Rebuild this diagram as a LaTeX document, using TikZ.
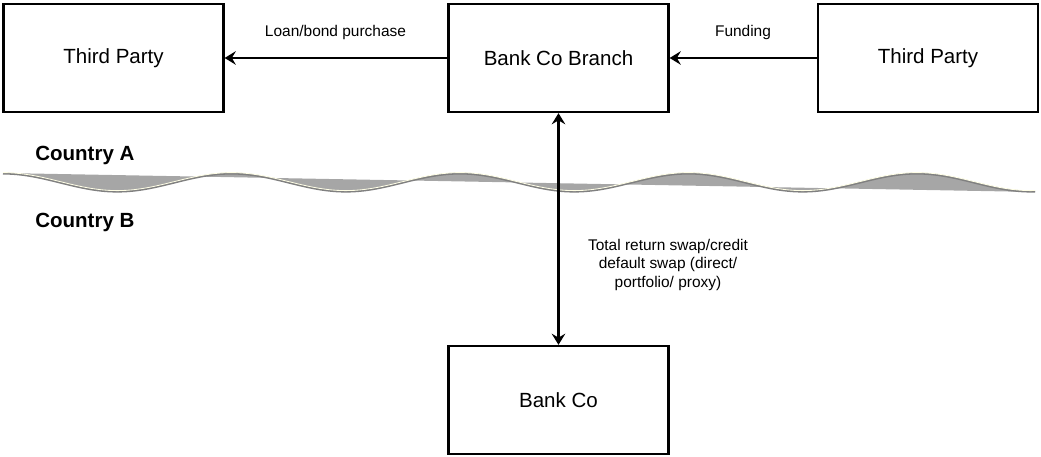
\documentclass[tikz,border=0pt]{standalone}
\usepackage{fontspec}
\setmainfont{Liberation Sans}
\usetikzlibrary{arrows.meta}
\begin{document}
\begin{tikzpicture}[x=0.025cm, y=-0.025cm,
    party/.style={draw, line width=1.6pt, minimum width=5.5cm, minimum height=2.7cm,
      font=\fontsize{14.6}{17}\selectfont},
    tip/.tip={Stealth[length=0.28cm, width=0.34cm, inset=0.1cm]},
    flow/.style={line width=1.8pt, -tip},
    lbl/.style={font=\fontsize{11}{13.1}\selectfont, inner sep=0pt},
    country/.style={font=\fontsize{14.6}{17}\selectfont\bfseries, anchor=west, inner sep=0pt}]
    \useasboundingbox (0,0) rectangle (1041,457);
    % border between the two countries
    \fill[black!35] plot[domain=3:1035, samples=200, smooth] (\x, {182-9*cos(1.5755*(\x-3))})
      -- (1035,192) -- (3,173) -- cycle;
    \draw[black!50, line width=1.4pt] plot[domain=3:1035, samples=200, smooth] (\x, {182.6-9*cos(1.5755*(\x-3))});
    \draw[white!90!yellow, line width=0.6pt] plot[domain=3:1035, samples=200, smooth] (\x, {181.6-9*cos(1.5755*(\x-3))});
    \node[country] (ctya) at (35,155) {Country A};
    \node[country] (ctyb) at (35,222) {Country B};
    % parties
    \node[party] (tpl) at (113.5,58) {Third Party};
    \node[party] (branch) at (558.5,58) {Bank Co Branch};
    \node[party] (tpr) at (928,58) {Third Party};
    \node[party] (bank) at (558.5,400) {Bank Co};
    % flows
    \draw[flow] (branch) -- (tpl);
    \draw[flow] (tpr) -- (branch);
    \draw[flow, tip-tip] (branch) -- (bank);
    \node[lbl] (loan) at (335.5,33) {Loan/bond purchase};
    \node[lbl] (fund) at (743,33) {Funding};
    \node[lbl, align=center] (swap) at (668,265) {Total return swap/credit\\default swap (direct/\\portfolio/ proxy)};
\end{tikzpicture}
\end{document}
